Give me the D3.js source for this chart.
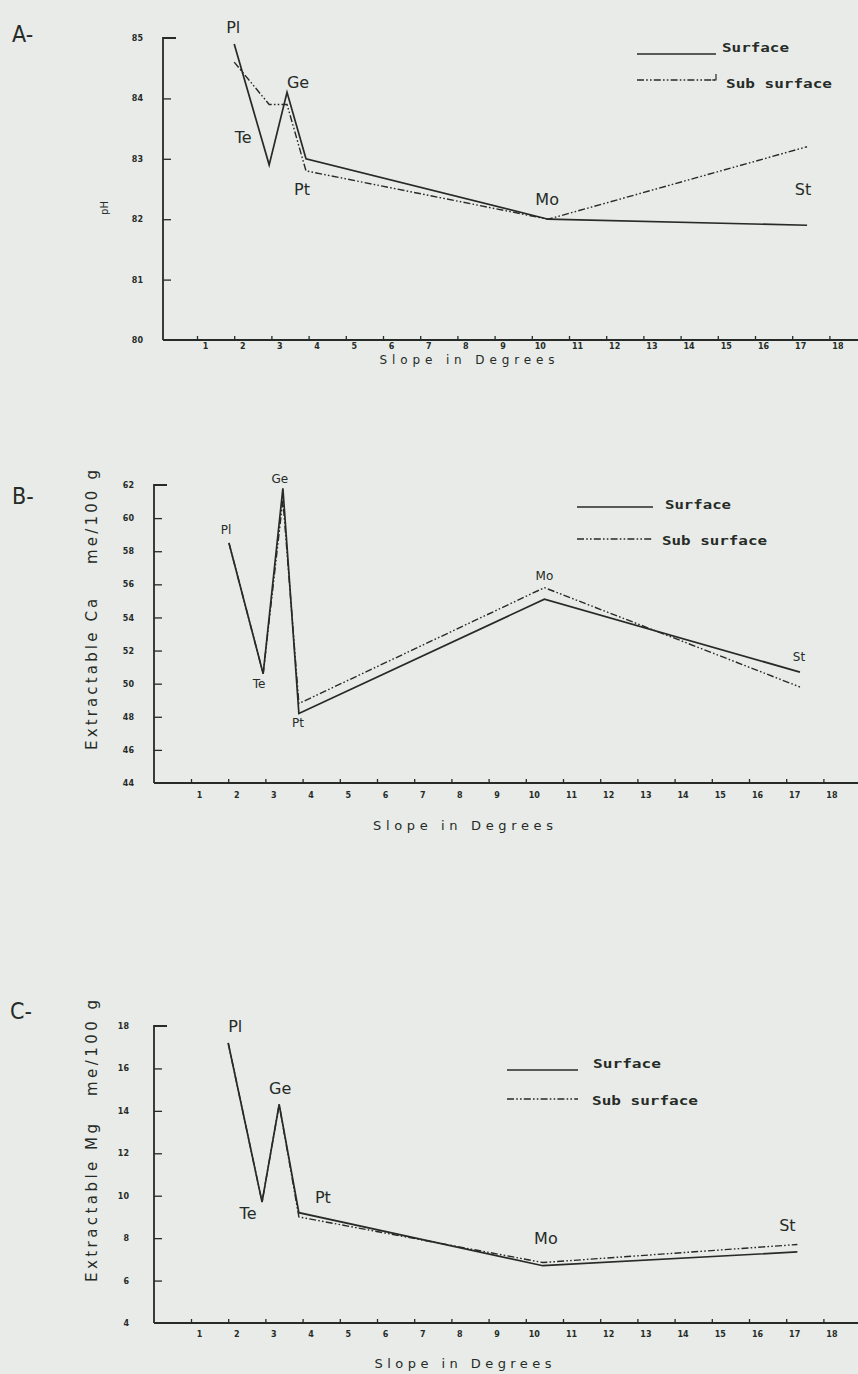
<!DOCTYPE html>
<html>
<head>
<meta charset="utf-8">
<script src="https://cdn.jsdelivr.net/npm/d3@7/dist/d3.min.js"></script>
<style>
  html, body { margin: 0; padding: 0; background: #e8ebe7; }
  svg { display: block; }
</style>
</head>
<body>
<svg id="chart" width="858" height="1374"></svg>
<script>
// ---------------- DATA ----------------
const sites = ["Pl", "Te", "Ge", "Pt", "Mo", "St"];
const xTickValues = [1,2,3,4,5,6,7,8,9,10,11,12,13,14,15,16,17,18];
const xTickLabels = ["1","2","3","4","5","6","7","8","9","10","11","12","13","14","15","16","17","18"];

// Panel A: pH
const slopeA = [2.0, 2.94, 3.42, 3.93, 10.44, 17.4];
const phSurface = [8.49, 8.29, 8.41, 8.30, 8.20, 8.19];
const phSub     = [8.46, 8.39, 8.39, 8.28, 8.20, 8.32];
const phTicks = [8.0, 8.1, 8.2, 8.3, 8.4, 8.5];
const phTickLabels = ["80", "81", "82", "83", "84", "85"];

// Panel B: Extractable Ca
const slopeB = [2.02, 2.94, 3.47, 3.9, 10.5, 17.37];
const caSurface = [58.5, 50.6, 61.8, 48.2, 55.1, 50.7];
const caSub     = [58.5, 50.6, 61.1, 48.8, 55.8, 49.8];
const caTicks = [44, 46, 48, 50, 52, 54, 56, 58, 60, 62];
const caTickLabels = ["44", "46", "48", "50", "52", "54", "56", "58", "60", "62"];

// Panel C: Extractable Mg
const slopeC = [2.0, 2.91, 3.37, 3.9, 10.46, 17.3];
const mgSurface = [17.2, 9.7, 14.3, 9.2, 6.7, 7.35];
const mgSub     = [17.2, 9.7, 14.3, 9.0, 6.85, 7.7];
const mgTicks = [4, 6, 8, 10, 12, 14, 16, 18];
const mgTickLabels = ["4", "6", "8", "10", "12", "14", "16", "18"];

const legendLabels = ["Surface", "Sub surface"];

// ---------------- LAYOUT ----------------
const ink = "#262b27";
const subDash = "7,2.2,1.6,2.2,1.6,2.2";
const svg = d3.select("#chart");
svg.append("rect").attr("width", 858).attr("height", 1374).attr("fill", "#e8ebe7");

const panels = [
  {
    letter: "A-", letterPos: [12, 42],
    slope: slopeA, surf: phSurface, sub: phSub,
    yDomain: [8.0, 8.5], yTicks: phTicks, yTickLabels: phTickLabels,
    axisX: 163, x0: 159.8, top: 38, bottom: 340, labelPad: 20,
    yTitle: "pH", yTitlePos: [104, 208], yTitleSize: 10, yTitleLen: null,
    xTitlePos: [467, 360], xTitleLen: 175, xTitleSize: 12,
    ptSize: 16,
    ptOff: [[-1,-17],[-26,-27],[11,-10],[-4,31],[-1,-20],[-4,-36]],
    legend: { x1: 637, x2: 716, y1: 54, y2: 80, t1: [722, 52, 67], t2: [726, 88, 106], stub: true },
    xLabelDy: 3
  },
  {
    letter: "B-", letterPos: [12, 504],
    slope: slopeB, surf: caSurface, sub: caSub,
    yDomain: [44, 62], yTicks: caTicks, yTickLabels: caTickLabels,
    axisX: 154, x0: 153.8, top: 485, bottom: 783, labelPad: 20,
    yTitle: "Extractable Ca    me/100 g", yTitlePos: [92, 610], yTitleSize: 15, yTitleLen: 280,
    xTitlePos: [463, 825], xTitleLen: 180, xTitleSize: 13,
    ptSize: 12,
    ptOff: [[-3,-13],[-4,10],[-3,-9],[-1,10],[0,-23],[-1,-15]],
    legend: { x1: 577, x2: 653, y1: 507, y2: 539, t1: [665, 509, 66], t2: [662, 545, 105], stub: false },
    xLabelDy: 9
  },
  {
    letter: "C-", letterPos: [10, 1019],
    slope: slopeC, surf: mgSurface, sub: mgSub,
    yDomain: [4, 18], yTicks: mgTicks, yTickLabels: mgTickLabels,
    axisX: 154, x0: 153.8, top: 1026, bottom: 1323, labelPad: 25,
    yTitle: "Extractable Mg   me/100 g", yTitlePos: [92, 1141], yTitleSize: 15, yTitleLen: 282,
    xTitlePos: [463, 1363], xTitleLen: 177, xTitleSize: 13,
    ptSize: 16,
    ptOff: [[7,-16],[-14,11],[1,-16],[24,-15],[3,-27],[-10,-26]],
    legend: { x1: 507, x2: 578, y1: 1070, y2: 1099, t1: [593, 1068, 68], t2: [592, 1105, 106], stub: false },
    xLabelDy: 8
  }
];

const step = 37.2;

panels.forEach(p => {
  const g = svg.append("g");
  const x = d3.scaleLinear().domain([0, 18]).range([p.x0, p.x0 + 18 * step]);
  const y = d3.scaleLinear().domain(p.yDomain).range([p.bottom, p.top]);

  // panel letter
  g.append("text").attr("x", p.letterPos[0]).attr("y", p.letterPos[1])
    .attr("font-family", "DejaVu Sans Condensed, Liberation Sans Narrow, sans-serif")
    .attr("font-size", 23).attr("fill", ink).text(p.letter);

  // y axis line + top stub
  g.append("path")
    .attr("d", `M${p.axisX + 13},${y(p.yDomain[1])}H${p.axisX}V${y(p.yDomain[0])}`)
    .attr("fill", "none").attr("stroke", ink).attr("stroke-width", 1.8);
  // x axis baseline
  g.append("line").attr("x1", p.axisX).attr("x2", 858)
    .attr("y1", y(p.yDomain[0])).attr("y2", y(p.yDomain[0]))
    .attr("stroke", ink).attr("stroke-width", 1.8);

  // y axis ticks
  const yAxis = d3.axisLeft(y).tickValues(p.yTicks)
    .tickFormat((d, i) => p.yTickLabels[i]).tickSizeInner(-8).tickSizeOuter(0).tickPadding(p.labelPad);
  const ya = g.append("g").attr("transform", `translate(${p.axisX},0)`).call(yAxis);
  ya.select(".domain").remove();
  ya.selectAll(".tick line").attr("stroke", ink).attr("stroke-width", 1.3)
    .filter(d => d === p.yDomain[0] || d === p.yDomain[1]).remove();
  ya.selectAll(".tick text").attr("font-family", "DejaVu Sans, sans-serif")
    .attr("font-weight", "bold").attr("font-size", 8).attr("fill", ink);

  // x axis ticks
  const xAxis = d3.axisBottom(x).tickValues(xTickValues)
    .tickFormat((d, i) => xTickLabels[i]).tickSizeInner(-4).tickSizeOuter(0).tickPadding(p.xLabelDy);
  const xa = g.append("g").attr("transform", `translate(0,${p.bottom})`).call(xAxis);
  xa.select(".domain").remove();
  xa.selectAll(".tick line").attr("stroke", ink).attr("stroke-width", 1.3);
  xa.selectAll(".tick text").attr("dx", 8).attr("font-family", "DejaVu Sans, sans-serif")
    .attr("font-weight", "bold").attr("font-size", 8).attr("fill", ink);

  // axis titles
  g.append("text").attr("x", p.xTitlePos[0]).attr("y", p.xTitlePos[1])
    .attr("text-anchor", "middle").attr("dominant-baseline", "central")
    .attr("font-family", "DejaVu Sans, sans-serif").attr("font-size", p.xTitleSize)
    .attr("textLength", p.xTitleLen).attr("lengthAdjust", "spacing")
    .attr("fill", ink).text("Slope in Degrees");

  const yt = g.append("text")
    .attr("transform", `translate(${p.yTitlePos[0]},${p.yTitlePos[1]}) rotate(-90)`)
    .attr("text-anchor", "middle").attr("dominant-baseline", "central")
    .attr("font-family", "DejaVu Sans, sans-serif").attr("font-size", p.yTitleSize)
    .attr("fill", ink).style("white-space", "pre").attr("xml:space", "preserve").text(p.yTitle);
  if (p.yTitleLen) yt.attr("textLength", p.yTitleLen).attr("lengthAdjust", "spacing");

  // lines
  const line = d3.line().x(d => x(d[0])).y(d => y(d[1]));
  const surfPts = p.slope.map((s, i) => [s, p.surf[i]]);
  const subPts = p.slope.map((s, i) => [s, p.sub[i]]);
  g.append("path").attr("d", line(subPts)).attr("fill", "none")
    .attr("stroke", ink).attr("stroke-width", 1.4).attr("stroke-dasharray", subDash);
  g.append("path").attr("d", line(surfPts)).attr("fill", "none")
    .attr("stroke", ink).attr("stroke-width", 1.7).attr("stroke-linejoin", "miter");

  // site labels
  g.selectAll(".site").data(sites).enter().append("text")
    .attr("x", (d, i) => x(p.slope[i]) + p.ptOff[i][0])
    .attr("y", (d, i) => y(p.surf[i]) + p.ptOff[i][1])
    .attr("text-anchor", "middle").attr("dominant-baseline", "central")
    .attr("font-family", "DejaVu Sans, sans-serif").attr("font-size", p.ptSize)
    .attr("fill", ink).text(d => d);

  // legend
  const L = p.legend;
  g.append("line").attr("x1", L.x1).attr("x2", L.x2).attr("y1", L.y1).attr("y2", L.y1)
    .attr("stroke", ink).attr("stroke-width", 1.7);
  g.append("line").attr("x1", L.x1).attr("x2", L.x2).attr("y1", L.y2).attr("y2", L.y2)
    .attr("stroke", ink).attr("stroke-width", 1.4).attr("stroke-dasharray", subDash);
  if (L.stub) {
    g.append("path").attr("d", `M${L.x2 - 4},${L.y2}H${L.x2}V${L.y2 - 6}`)
      .attr("fill", "none").attr("stroke", ink).attr("stroke-width", 1.2);
  }
  [[L.t1, legendLabels[0]], [L.t2, legendLabels[1]]].forEach(([t, label]) => {
    g.append("text").attr("x", t[0]).attr("y", t[1])
      .attr("font-family", "DejaVu Sans Mono, monospace").attr("font-weight", "bold")
      .attr("font-size", 12).attr("textLength", t[2]).attr("lengthAdjust", "spacingAndGlyphs")
      .attr("fill", ink).attr("xml:space", "preserve").text(label);
  });
});
</script>
</body>
</html>
